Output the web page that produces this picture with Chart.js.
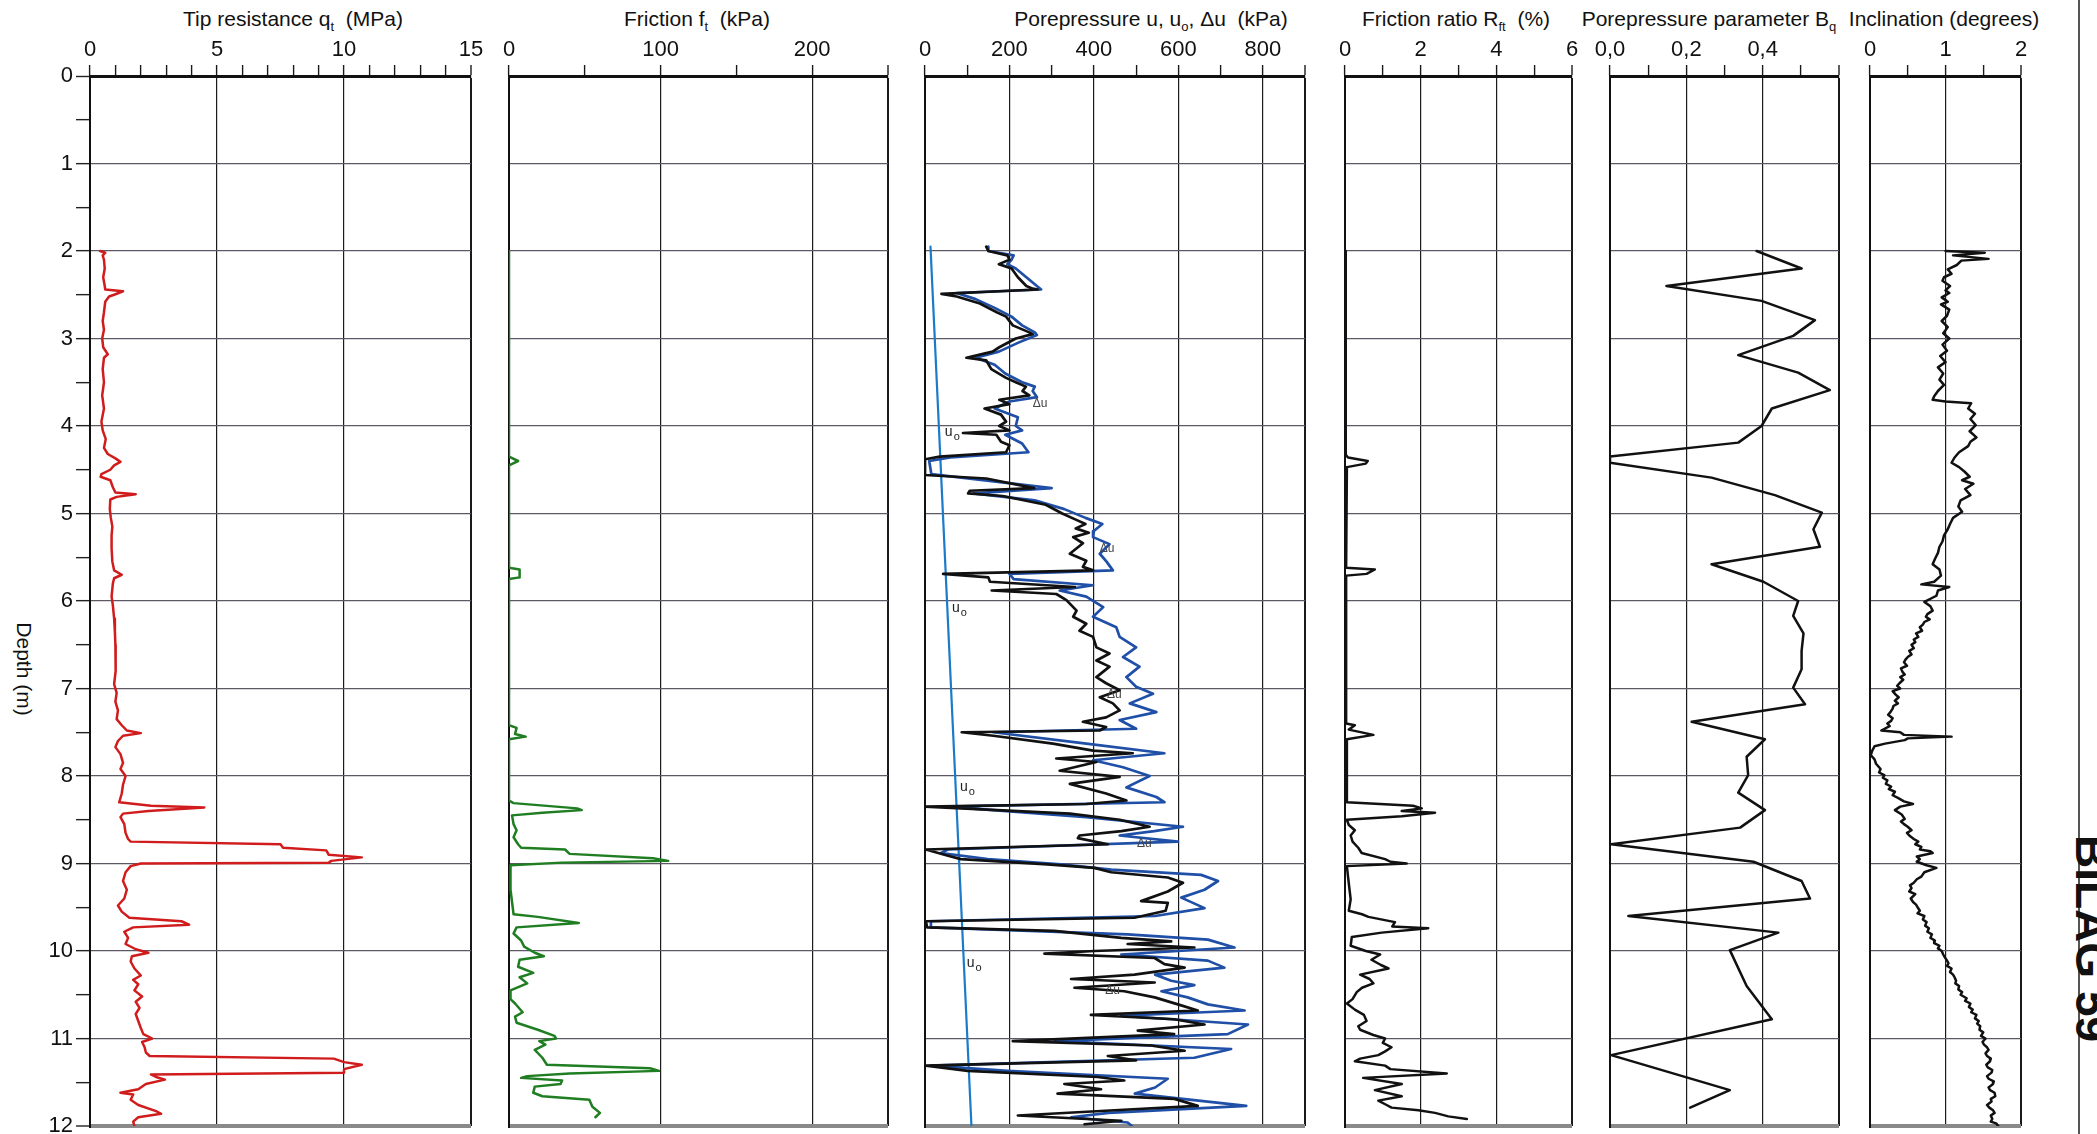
<!DOCTYPE html>
<html><head><meta charset="utf-8">
<script src="https://cdn.jsdelivr.net/npm/chart.js@4.4.0/dist/chart.umd.min.js"></script>
<style>
html,body{margin:0;padding:0;background:#fff;}
#wrap{position:relative;width:2097px;height:1134px;overflow:hidden;background:#fff;}
#wrap canvas{position:absolute;top:0;}
.title{position:absolute;top:7px;font-family:'Liberation Sans',Arial,sans-serif;font-size:21px;line-height:24px;color:#111;white-space:pre;transform:translateX(-50%);}
.title sub{font-size:13px;line-height:1;vertical-align:-5px;}
#depthTitle{position:absolute;left:24px;top:669px;transform:translate(-50%,-50%) rotate(90deg);font-family:'Liberation Sans',Arial,sans-serif;font-size:21px;color:#111;white-space:nowrap;}
#bilag{position:absolute;left:2115px;top:835px;transform-origin:0 0;transform:rotate(90deg);font-family:'Liberation Sans',Arial,sans-serif;font-weight:bold;font-size:46px;line-height:46px;color:#111;white-space:nowrap;}
#sep{position:absolute;left:2078px;top:0;width:1.5px;height:1134px;background:#555;}
</style></head>
<body>
<div id="wrap">
  <div class="title" style="left:293px">Tip resistance q<sub>t</sub>  (MPa)</div>
  <div class="title" style="left:697px">Friction f<sub>t</sub>  (kPa)</div>
  <div class="title" style="left:1151px">Porepressure u, u<sub>o</sub>, Δu  (kPa)</div>
  <div class="title" style="left:1456px">Friction ratio R<sub>ft</sub>  (%)</div>
  <div class="title" style="left:1709px">Porepressure parameter B<sub>q</sub></div>
  <div class="title" style="left:1944px">Inclination (degrees)</div>
  <div id="depthTitle">Depth (m)</div>
  <div id="sep"></div>
  <div id="bilag">BILAG 59</div>
</div>
<script>
// ---------------- DATA ([depth m, value]) ----------------
const qtProfile = [[2.00,0.40],[2.02,0.60],[2.05,0.50],[2.10,0.55],[2.20,0.58],[2.30,0.52],[2.40,0.58],[2.44,0.60],[2.46,1.30],[2.50,0.95],[2.52,0.75],[2.58,0.60],[2.70,0.55],[2.80,0.50],[2.90,0.55],[3.00,0.48],[3.10,0.52],[3.18,0.70],[3.22,0.55],[3.35,0.50],[3.50,0.55],[3.65,0.48],[3.80,0.55],[3.95,0.45],[4.05,0.50],[4.15,0.62],[4.25,0.55],[4.32,0.70],[4.37,1.00],[4.41,1.20],[4.45,0.95],[4.50,0.80],[4.55,0.45],[4.58,0.42],[4.62,0.80],[4.70,0.90],[4.76,1.00],[4.78,1.80],[4.81,1.05],[4.84,0.80],[4.95,0.78],[5.05,0.82],[5.15,0.88],[5.25,0.85],[5.40,0.85],[5.55,0.88],[5.65,0.95],[5.70,1.25],[5.74,0.95],[5.80,0.90],[5.95,0.85],[6.05,0.90],[6.20,0.95],[6.35,0.98],[6.50,1.00],[6.65,1.02],[6.80,1.00],[6.95,0.95],[7.05,1.05],[7.15,1.00],[7.25,1.10],[7.35,1.05],[7.42,1.25],[7.48,1.45],[7.51,2.00],[7.54,1.30],[7.60,1.10],[7.67,1.00],[7.75,1.20],[7.85,1.30],[7.92,1.20],[8.00,1.40],[8.10,1.30],[8.20,1.25],[8.30,1.15],[8.34,2.40],[8.36,4.50],[8.40,2.30],[8.43,1.30],[8.47,1.20],[8.55,1.35],[8.65,1.40],[8.72,1.50],[8.75,1.60],[8.78,7.50],[8.82,7.60],[8.85,9.30],[8.90,9.40],[8.93,10.70],[8.97,9.50],[8.99,9.40],[9.00,2.00],[9.03,1.60],[9.10,1.40],[9.20,1.30],[9.30,1.45],[9.40,1.35],[9.48,1.10],[9.55,1.25],[9.62,1.55],[9.66,3.60],[9.70,3.90],[9.73,1.70],[9.78,1.35],[9.85,1.50],[9.92,1.40],[9.98,1.80],[10.02,2.30],[10.06,1.65],[10.12,1.60],[10.20,1.75],[10.28,2.00],[10.33,1.70],[10.38,1.90],[10.45,1.75],[10.52,2.05],[10.58,1.80],[10.65,1.95],[10.72,1.80],[10.80,1.90],[10.88,2.00],[10.95,2.10],[11.00,2.45],[11.04,2.05],[11.10,2.15],[11.16,2.20],[11.20,2.35],[11.23,9.60],[11.27,10.00],[11.30,10.70],[11.35,10.00],[11.39,10.00],[11.41,2.40],[11.44,2.60],[11.47,2.95],[11.52,2.20],[11.58,1.90],[11.62,1.20],[11.64,1.70],[11.70,1.60],[11.76,1.90],[11.83,2.60],[11.86,2.80],[11.90,1.90],[11.95,1.70],[12.00,1.75]];

const ftProfile = [[2.00,0],[4.35,0],[4.40,6],[4.45,0],[5.62,0],[5.64,7],[5.73,7],[5.75,0],[7.42,0],[7.45,5],[7.52,4],[7.55,11],[7.58,0],[8.28,0],[8.31,3],[8.37,45],[8.39,48],[8.42,22],[8.45,2],[8.55,3],[8.62,5],[8.70,3],[8.78,6],[8.82,8],[8.84,37],[8.89,40],[8.94,95],[8.97,105],[8.99,35],[9.02,1],[9.30,1],[9.58,3],[9.61,19],[9.68,46],[9.73,5],[9.80,3],[9.88,8],[9.95,10],[10.02,17],[10.06,23],[10.10,7],[10.18,6],[10.25,16],[10.30,7],[10.37,12],[10.45,1],[10.55,1],[10.60,4],[10.70,9],[10.75,4],[10.82,5],[10.90,19],[10.97,30],[11.00,31],[11.03,20],[11.07,24],[11.13,17],[11.22,22],[11.30,25],[11.34,93],[11.37,99],[11.40,40],[11.43,12],[11.45,8],[11.48,35],[11.52,34],[11.55,17],[11.62,16],[11.66,22],[11.70,53],[11.78,55],[11.85,60],[11.90,57]];

const duProfile = [[1.95,145],[2.00,150],[2.05,195],[2.10,200],[2.15,175],[2.20,205],[2.30,220],[2.40,240],[2.43,255],[2.44,267],[2.49,39],[2.52,75],[2.60,130],[2.70,170],[2.75,192],[2.85,208],[2.93,247],[2.95,255],[3.00,215],[3.10,176],[3.15,160],[3.22,98],[3.25,145],[3.35,157],[3.45,192],[3.50,215],[3.55,239],[3.60,231],[3.65,247],[3.70,176],[3.75,200],[3.80,141],[3.87,180],[3.95,192],[4.00,176],[4.05,200],[4.08,90],[4.10,169],[4.18,180],[4.22,200],[4.30,192],[4.35,35],[4.38,0],[4.56,0],[4.60,145],[4.71,259],[4.74,106],[4.77,102],[4.80,184],[4.90,286],[5.00,325],[5.07,357],[5.12,380],[5.17,357],[5.22,388],[5.27,351],[5.34,374],[5.46,343],[5.54,382],[5.61,374],[5.65,398],[5.69,43],[5.73,150],[5.78,154],[5.84,355],[5.88,158],[5.92,311],[5.99,335],[6.11,359],[6.18,351],[6.26,382],[6.34,366],[6.41,398],[6.53,406],[6.60,437],[6.68,406],[6.75,437],[6.87,406],[6.94,429],[7.02,461],[7.10,414],[7.17,445],[7.25,461],[7.33,429],[7.38,374],[7.44,429],[7.48,414],[7.50,87],[7.54,162],[7.63,303],[7.71,398],[7.74,492],[7.80,311],[7.84,406],[7.94,319],[8.01,461],[8.09,343],[8.20,429],[8.28,477],[8.32,382],[8.35,0],[8.43,343],[8.50,461],[8.58,532],[8.63,465],[8.68,366],[8.71,362],[8.78,433],[8.84,2],[8.90,46],[8.95,85],[9.01,290],[9.05,401],[9.10,441],[9.16,575],[9.22,611],[9.32,575],[9.43,512],[9.45,575],[9.54,570],[9.62,496],[9.66,2],[9.73,5],[9.77,306],[9.85,465],[9.89,583],[9.92,480],[9.96,638],[10.00,401],[10.03,283],[10.08,544],[10.15,567],[10.19,615],[10.27,496],[10.32,346],[10.36,544],[10.42,354],[10.46,472],[10.53,544],[10.61,599],[10.68,646],[10.73,393],[10.78,590],[10.84,662],[10.91,504],[10.95,590],[11.03,208],[11.08,535],[11.14,615],[11.20,433],[11.25,500],[11.31,2],[11.37,101],[11.44,409],[11.48,472],[11.52,330],[11.58,417],[11.63,314],[11.69,591],[11.77,646],[11.82,449],[11.88,220],[11.94,465],[11.98,378]];

const uProfile = [[1.95,150],[2.00,150],[2.05,210],[2.10,205],[2.15,195],[2.20,215],[2.30,240],[2.40,265],[2.44,275],[2.48,75],[2.55,120],[2.65,165],[2.75,205],[2.85,230],[2.93,260],[2.96,265],[3.05,220],[3.15,175],[3.22,120],[3.30,165],[3.40,190],[3.50,230],[3.55,260],[3.60,255],[3.67,265],[3.72,200],[3.80,165],[3.90,220],[4.00,215],[4.05,230],[4.10,190],[4.20,230],[4.30,245],[4.36,60],[4.40,10],[4.55,15],[4.71,300],[4.77,115],[4.85,260],[4.95,330],[5.05,380],[5.12,420],[5.20,400],[5.27,398],[5.35,437],[5.46,414],[5.55,430],[5.65,445],[5.69,200],[5.75,210],[5.82,398],[5.88,319],[5.95,382],[6.07,422],[6.18,398],[6.30,453],[6.41,461],[6.53,500],[6.64,469],[6.75,508],[6.87,477],[6.98,500],[7.06,540],[7.17,485],[7.27,548],[7.36,461],[7.46,500],[7.50,162],[7.63,382],[7.74,567],[7.82,398],[7.90,469],[8.00,532],[8.13,477],[8.24,548],[8.30,567],[8.35,51],[8.47,382],[8.58,611],[8.63,543],[8.68,461],[8.75,599],[8.84,54],[8.88,38],[8.95,149],[9.01,322],[9.07,441],[9.13,654],[9.20,694],[9.30,662],[9.39,607],[9.51,662],[9.60,545],[9.66,14],[9.73,14],[9.81,480],[9.87,670],[9.96,733],[10.04,465],[10.11,670],[10.19,709],[10.27,545],[10.34,583],[10.39,638],[10.46,560],[10.53,622],[10.61,670],[10.68,757],[10.74,465],[10.84,765],[10.95,717],[11.03,307],[11.12,725],[11.22,638],[11.31,14],[11.37,196],[11.46,575],[11.56,545],[11.63,497],[11.77,761],[11.85,435],[11.90,346],[11.96,480],[12.00,490]];

const u0Profile = [[1.95,13],[12.00,110]];

const rfProfile = [[2.00,0.02],[4.33,0.02],[4.36,0.08],[4.40,0.60],[4.43,0.55],[4.47,0.05],[5.62,0.03],[5.64,0.79],[5.69,0.57],[5.71,0.03],[7.40,0.03],[7.42,0.26],[7.47,0.10],[7.53,0.75],[7.58,0.05],[8.30,0.05],[8.34,1.80],[8.37,2.03],[8.40,1.50],[8.42,2.38],[8.46,1.50],[8.50,0.05],[8.56,0.10],[8.62,0.26],[8.68,0.15],[8.75,0.20],[8.82,0.35],[8.88,0.44],[8.95,1.06],[8.98,1.20],[9.00,1.63],[9.03,0.05],[9.15,0.08],[9.30,0.12],[9.41,0.15],[9.54,0.10],[9.58,0.45],[9.61,0.62],[9.67,1.32],[9.72,1.25],[9.74,2.20],[9.79,0.97],[9.84,0.18],[9.94,0.15],[10.00,0.55],[10.04,0.93],[10.10,0.70],[10.16,0.95],[10.20,1.15],[10.27,0.40],[10.32,0.65],[10.37,0.75],[10.42,0.45],[10.47,0.31],[10.55,0.20],[10.60,0.05],[10.67,0.26],[10.73,0.50],[10.80,0.57],[10.86,0.35],[10.90,0.40],[10.96,0.75],[11.00,1.06],[11.05,1.00],[11.10,1.23],[11.15,1.05],[11.19,0.88],[11.23,0.40],[11.26,0.26],[11.31,1.06],[11.35,1.20],[11.40,2.69],[11.45,0.48],[11.52,1.50],[11.59,0.79],[11.66,1.50],[11.71,0.88],[11.76,1.10],[11.79,1.23],[11.82,1.94],[11.85,2.38],[11.89,2.73],[11.92,3.22]];

const bqProfile = [[2.00,0.384],[2.20,0.502],[2.40,0.148],[2.57,0.397],[2.79,0.537],[2.97,0.480],[3.19,0.336],[3.39,0.493],[3.59,0.576],[3.80,0.424],[4.00,0.397],[4.19,0.336],[4.35,0.000],[4.42,0.000],[4.59,0.266],[4.79,0.432],[4.99,0.555],[5.18,0.533],[5.38,0.550],[5.58,0.266],[5.78,0.402],[6.00,0.493],[6.17,0.480],[6.37,0.507],[6.57,0.502],[6.78,0.502],[6.99,0.480],[7.18,0.511],[7.38,0.214],[7.58,0.406],[7.78,0.358],[7.99,0.362],[8.19,0.336],[8.39,0.406],[8.59,0.341],[8.78,0.003],[8.98,0.376],[9.20,0.502],[9.40,0.524],[9.60,0.048],[9.79,0.441],[9.99,0.314],[10.40,0.358],[10.78,0.424],[11.19,0.003],[11.59,0.314],[11.79,0.210]];

const incProfile = [[2.00,1.00],[2.02,1.52],[2.05,1.10],[2.07,1.34],[2.09,1.57],[2.11,1.21],[2.16,1.15],[2.21,1.03],[2.26,1.08],[2.30,0.98],[2.34,0.96],[2.40,1.06],[2.45,1.00],[2.48,1.05],[2.53,0.95],[2.58,1.03],[2.61,0.94],[2.67,1.05],[2.74,1.02],[2.80,0.95],[2.87,1.03],[2.94,0.97],[3.00,1.05],[3.07,0.96],[3.14,1.02],[3.20,0.93],[3.27,1.00],[3.33,0.90],[3.40,0.97],[3.47,0.92],[3.53,0.98],[3.60,0.90],[3.66,0.85],[3.70,0.83],[3.72,1.00],[3.74,1.34],[3.80,1.30],[3.86,1.39],[3.92,1.33],[3.99,1.40],[4.06,1.32],[4.13,1.41],[4.18,1.33],[4.23,1.30],[4.30,1.18],[4.36,1.12],[4.42,1.08],[4.47,1.18],[4.52,1.25],[4.58,1.32],[4.62,1.22],[4.66,1.37],[4.72,1.26],[4.79,1.33],[4.85,1.20],[4.92,1.17],[4.98,1.22],[5.05,1.10],[5.12,1.06],[5.18,1.03],[5.25,0.98],[5.32,0.96],[5.38,0.92],[5.45,0.90],[5.52,0.86],[5.58,0.83],[5.64,0.92],[5.71,0.94],[5.78,0.85],[5.81,0.68],[5.84,1.05],[5.88,0.90],[5.94,0.88],[6.01,0.72],[6.06,0.80],[6.11,0.83],[6.15,0.76],[6.18,0.74],[6.21,0.79],[6.24,0.72],[6.27,0.70],[6.30,0.66],[6.34,0.69],[6.37,0.61],[6.41,0.64],[6.44,0.58],[6.47,0.60],[6.50,0.55],[6.54,0.58],[6.57,0.52],[6.61,0.55],[6.64,0.50],[6.67,0.47],[6.70,0.45],[6.74,0.49],[6.77,0.41],[6.81,0.43],[6.84,0.46],[6.87,0.40],[6.90,0.44],[6.94,0.39],[6.97,0.36],[7.00,0.40],[7.03,0.30],[7.07,0.34],[7.10,0.38],[7.14,0.33],[7.17,0.37],[7.20,0.31],[7.23,0.30],[7.27,0.27],[7.30,0.24],[7.34,0.30],[7.37,0.28],[7.40,0.23],[7.43,0.26],[7.48,0.15],[7.50,0.40],[7.53,0.45],[7.55,1.08],[7.57,0.50],[7.59,0.46],[7.63,0.20],[7.66,0.06],[7.71,0.03],[7.76,0.01],[7.81,0.06],[7.86,0.08],[7.92,0.14],[7.96,0.12],[7.99,0.19],[8.02,0.17],[8.05,0.23],[8.09,0.21],[8.12,0.28],[8.15,0.25],[8.18,0.33],[8.22,0.30],[8.25,0.37],[8.29,0.45],[8.32,0.57],[8.35,0.40],[8.39,0.33],[8.44,0.42],[8.49,0.46],[8.52,0.41],[8.55,0.45],[8.58,0.50],[8.62,0.55],[8.65,0.49],[8.68,0.52],[8.72,0.58],[8.75,0.64],[8.78,0.60],[8.81,0.68],[8.84,0.66],[8.86,0.80],[8.88,0.83],[8.92,0.62],[8.95,0.66],[8.98,0.62],[9.02,0.75],[9.05,0.88],[9.10,0.72],[9.15,0.68],[9.18,0.62],[9.22,0.58],[9.25,0.53],[9.28,0.55],[9.32,0.52],[9.35,0.60],[9.40,0.54],[9.44,0.57],[9.47,0.61],[9.50,0.63],[9.54,0.66],[9.57,0.63],[9.60,0.72],[9.64,0.70],[9.67,0.75],[9.71,0.73],[9.74,0.78],[9.78,0.76],[9.81,0.82],[9.85,0.80],[9.88,0.86],[9.91,0.85],[9.94,0.92],[9.97,0.90],[10.00,0.95],[10.04,0.97],[10.07,0.99],[10.11,1.02],[10.14,1.04],[10.17,1.02],[10.20,1.08],[10.24,1.06],[10.27,1.10],[10.30,1.12],[10.34,1.14],[10.37,1.13],[10.40,1.18],[10.44,1.17],[10.47,1.22],[10.50,1.20],[10.54,1.28],[10.57,1.26],[10.60,1.33],[10.64,1.31],[10.67,1.36],[10.70,1.34],[10.73,1.41],[10.77,1.39],[10.80,1.44],[10.83,1.42],[10.86,1.46],[10.90,1.45],[10.93,1.50],[10.97,1.47],[11.00,1.53],[11.04,1.49],[11.07,1.51],[11.10,1.55],[11.13,1.57],[11.17,1.53],[11.20,1.55],[11.23,1.60],[11.26,1.59],[11.30,1.54],[11.33,1.56],[11.36,1.62],[11.39,1.61],[11.43,1.55],[11.46,1.57],[11.49,1.64],[11.52,1.63],[11.56,1.57],[11.59,1.59],[11.62,1.65],[11.66,1.66],[11.69,1.60],[11.72,1.61],[11.76,1.55],[11.79,1.58],[11.82,1.63],[11.85,1.65],[11.88,1.60],[11.92,1.62],[11.95,1.60],[11.97,1.67],[12.00,1.70]];

// tick labels
const qtTicks = [0,5,10,15],        qtTickLabels = ['0','5','10','15'];
const ftTicks = [0,100,200],        ftTickLabels = ['0','100','200'];
const uTicks  = [0,200,400,600,800],uTickLabels  = ['0','200','400','600','800'];
const rfTicks = [0,2,4,6],          rfTickLabels = ['0','2','4','6'];
const bqTicks = [0,0.2,0.4],        bqTickLabels = ['0,0','0,2','0,4'];
const incTicks = [0,1,2],           incTickLabels = ['0','1','2'];
const depthTicks = [0,1,2,3,4,5,6,7,8,9,10,11,12];

// annotation anchor points in panel 3 (kPa, depth)
const uoLabelAt = [[47,4.07],[64,6.08],[83,8.13],[99,10.14]];
const duLabelAt = [[255,3.74],[414,5.40],[431,7.07],[502,8.77],[427,10.45]];

// ---------------- LAYOUT ----------------
const TOP = 76, BOTTOM = 1126;
const FONT = "'Liberation Sans', Arial, sans-serif";
const wrap = document.getElementById('wrap');

function toXY(profile){ return profile.map(p => ({x: p[1], y: p[0]})); }
function near(a,b){ return Math.abs(a-b) < 1e-7; }

function makePanel(o){
  const showDepth = !!o.showDepth;
  const yW = showDepth ? 90 : 22;
  const rp = o.rp || 12, pb = 8;
  const c = document.createElement('canvas');
  const w = yW + (o.right - o.left) + rp, h = BOTTOM + pb;
  c.width = w; c.height = h;
  c.style.left = (o.left - yW) + 'px';
  c.style.width = w + 'px'; c.style.height = h + 'px';
  wrap.appendChild(c);
  const isMajor = v => o.majors.some(m => near(m, v)) || near(v, o.max);
  new Chart(c, {
    type: 'scatter',
    data: { datasets: o.datasets.map(d => ({
      data: toXY(d.profile), showLine: true, borderColor: d.color, backgroundColor: d.color,
      borderWidth: d.width || 2.5, pointRadius: 0, tension: 0, fill: false,
      borderJoinStyle: 'round', borderCapStyle: 'round'
    })) },
    options: {
      responsive: false, animation: false, events: [],
      layout: { padding: { left: 0, top: 0, right: rp, bottom: pb } },
      plugins: { legend: { display: false }, tooltip: { enabled: false } },
      scales: {
        x: {
          type: 'linear', position: 'top', min: 0, max: o.max,
          afterFit(s){ s.height = TOP; s.paddingLeft = 0; s.paddingRight = 0; },
          ticks: {
            stepSize: o.step, autoSkip: false, maxRotation: 0, padding: 2,
            color: '#111', font: { family: FONT, size: 22 },
            callback: v => { const i = o.majors.findIndex(m => near(m, v)); return i >= 0 ? o.labels[i] : ''; }
          },
          grid: {
            color: ctx => isMajor(ctx.tick.value) ? '#1a1a1a' : 'rgba(0,0,0,0)',
            lineWidth: ctx => near(ctx.tick.value, o.max) ? 2 : 1.2,
            tickColor: '#1a1a1a', tickWidth: 1.4, tickLength: 11, drawTicks: true
          },
          border: { display: true, color: '#111', width: 3 }
        },
        y: {
          type: 'linear', position: 'left', reverse: true, min: 0, max: 12,
          afterFit(s){ s.width = yW; s.paddingTop = 0; s.paddingBottom = 0; },
          ticks: {
            display: showDepth, stepSize: 0.5, autoSkip: false, padding: 3,
            color: '#111', font: { family: FONT, size: 22 },
            callback: v => depthTicks.includes(v) ? String(v) : ''
          },
          grid: {
            color: ctx => { const v = ctx.tick.value;
              if (near(v,0)) return '#111';
              if (near(v,12)) return '#8a8a8a';
              return Number.isInteger(v) ? '#5e5866' : 'rgba(0,0,0,0)'; },
            lineWidth: ctx => { const v = ctx.tick.value; return near(v,0) ? 3 : near(v,12) ? 4 : 1.3; },
            drawTicks: showDepth, tickLength: 14, tickColor: '#222', tickWidth: 1.4
          },
          border: { display: true, color: '#111', width: 2 }
        }
      }
    },
    plugins: o.extraPlugins || []
  });
}

const annotPlugin = {
  id: 'porelabels',
  afterDatasetsDraw(chart){
    const ctx = chart.ctx, xs = chart.scales.x, ys = chart.scales.y;
    ctx.save();
    ctx.fillStyle = '#222'; ctx.textBaseline = 'middle'; ctx.textAlign = 'left';
    uoLabelAt.forEach(p => {
      const x = xs.getPixelForValue(p[0]), y = ys.getPixelForValue(p[1]);
      ctx.font = "14px " + FONT; ctx.fillText('u', x, y);
      const w = ctx.measureText('u').width;
      ctx.font = "11px " + FONT; ctx.fillText('o', x + w + 1, y + 5);
    });
    ctx.fillStyle = '#444';
    duLabelAt.forEach(p => {
      const x = xs.getPixelForValue(p[0]), y = ys.getPixelForValue(p[1]);
      ctx.font = "12px " + FONT; ctx.fillText('Δu', x, y);
    });
    ctx.restore();
  }
};

makePanel({ left: 90, right: 471, max: 15, step: 1, majors: qtTicks, labels: qtTickLabels, showDepth: true,
  datasets: [{ profile: qtProfile, color: '#d01c1c', width: 2.5 }] });
makePanel({ left: 509, right: 888, max: 250, step: 50, majors: ftTicks, labels: ftTickLabels,
  datasets: [{ profile: ftProfile, color: '#1f7d22', width: 2.5 }] });
makePanel({ left: 925, right: 1305, max: 900, step: 100, majors: uTicks, labels: uTickLabels,
  datasets: [
    { profile: duProfile, color: '#111111', width: 2.7 },
    { profile: uProfile, color: '#1f4fa6', width: 2.7 },
    { profile: u0Profile, color: '#1b7bc9', width: 2.2 }
  ], extraPlugins: [annotPlugin] });
makePanel({ left: 1345, right: 1572, max: 6, step: 1, majors: rfTicks, labels: rfTickLabels,
  datasets: [{ profile: rfProfile, color: '#111111', width: 2.5 }] });
makePanel({ left: 1610, right: 1839, max: 0.6, step: 0.1, majors: bqTicks, labels: bqTickLabels, rp: 9,
  datasets: [{ profile: bqProfile, color: '#111111', width: 2.5 }] });
makePanel({ left: 1870, right: 2021, max: 2, step: 0.5, majors: incTicks, labels: incTickLabels,
  datasets: [{ profile: incProfile, color: '#111111', width: 2.5 }] });
</script>
</body></html>
